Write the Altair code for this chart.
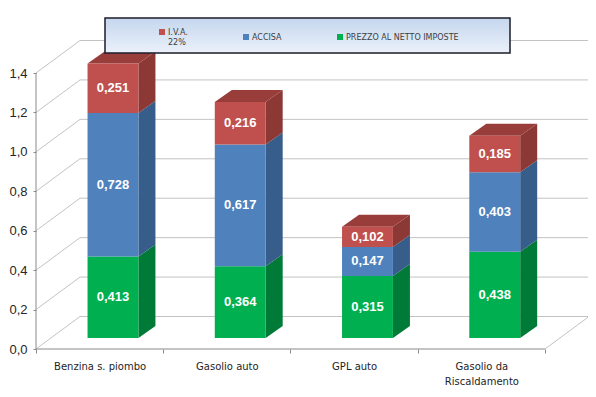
import json
import altair as alt
import pandas as pd

# ---------------- data ----------------
categories = ["Benzina s. piombo", "Gasolio auto", "GPL auto", "Gasolio da Riscaldamento"]
category_lines = [["Benzina s. piombo"], ["Gasolio auto"], ["GPL auto"], ["Gasolio da", "Riscaldamento"]]
prezzo = [0.413, 0.364, 0.315, 0.438]
accisa = [0.728, 0.617, 0.147, 0.403]
iva = [0.251, 0.216, 0.102, 0.185]
series = ["I.V.A. 22%", "ACCISA", "PREZZO AL NETTO IMPOSTE"]
series_lines = {"I.V.A. 22%": ["I.V.A.", "22%"]}
y_ticks = [0.0, 0.2, 0.4, 0.6, 0.8, 1.0, 1.2, 1.4]

# ---------------- style ----------------
front_colors = ["#c0504d", "#4f81bd", "#00b050"]
side_colors = ["#8c3835", "#375d8b", "#007a37"]
top_colors = ["#983d3a", "#3f6a9c", "#008a3e"]
GRID = "#c3c3c3"
AXIS = "#8a8a8a"

PX_X = 127.25      # pixels per category
PX_Y = 197.14      # pixels per value unit
W, H = 551, 319
n = len(categories)
XMAX = W / PX_X
YMAX = H / PX_Y
WALL_DX = 44 / PX_X
WALL_DY = 32.5 / PX_Y
BAR_OFF = 0.405
BAR_W = 0.40
BAR_DX = 17 / PX_X
BAR_DY = 12 / PX_Y
BAR_BASE = 11 / PX_Y

stack = [(series[2], prezzo), (series[1], accisa), (series[0], iva)]

front_rows, side_rows, top_rows = [], [], []
for i, cat in enumerate(categories):
    xl = i + BAR_OFF
    xr = xl + BAR_W
    cum = BAR_BASE
    for s, vals in stack:
        v = vals[i]
        lo, hi = cum, cum + v
        k = series.index(s)
        front_rows.append(dict(cat=cat, series=s, x=xl, x2=xr, y=lo, y2=hi,
                               xm=(xl + xr) / 2, ym=(lo + hi) / 2,
                               label=f"{v:.3f}".replace(".", ",")))
        key = f"{i}-{k}"
        side_rows.append(dict(key=key, x=xr, ylo=lo, yhi=hi, shade=side_colors[k]))
        side_rows.append(dict(key=key, x=xr + BAR_DX, ylo=lo + BAR_DY, yhi=hi + BAR_DY, shade=side_colors[k]))
        cum = hi
    k = series.index(stack[-1][0])
    key = f"t{i}"
    yt = cum
    for (xx, a, b) in [(xl, yt, yt), (xl + BAR_DX, yt, yt + BAR_DY),
                       (xr, yt, yt + BAR_DY), (xr + BAR_DX, yt + BAR_DY, yt + BAR_DY)]:
        top_rows.append(dict(key=key, x=xx, ylo=a, yhi=b, shade=top_colors[k]))

front_df = pd.DataFrame(front_rows)
side_df = pd.DataFrame(side_rows)
top_df = pd.DataFrame(top_rows)

# walls / floor lines
rule_rows = []
for v in y_ticks:
    rule_rows.append(dict(x=WALL_DX, x2=n + WALL_DX, y=v + WALL_DY, y2=v + WALL_DY, c=GRID))
    rule_rows.append(dict(x=0, x2=WALL_DX, y=v, y2=v + WALL_DY, c=GRID))
rule_rows.append(dict(x=n, x2=n + WALL_DX, y=0, y2=WALL_DY, c=GRID))
rule_rows.append(dict(x=0, x2=0, y=0, y2=y_ticks[-1], c=AXIS))
rule_rows.append(dict(x=0, x2=n, y=0, y2=0, c=AXIS))
rule_df = pd.DataFrame(rule_rows)

# ---------------- scales / axes ----------------
xscale = alt.Scale(domain=[0, XMAX], nice=False, zero=False)
yscale = alt.Scale(domain=[0, YMAX], nice=False, zero=False)

parts = []
for i, lines in enumerate(category_lines):
    txt = json.dumps(lines) if len(lines) > 1 else json.dumps(lines[0])
    parts.append(f"datum.value == {i + 0.5} ? {txt} : ")
x_label_expr = "".join(parts) + "''"

x_axis = alt.Axis(
    values=[k * 0.5 for k in range(2 * n + 1)], title=None, domain=False, grid=False,
    tickColor=AXIS, tickSize=4,
    tickOpacity={"condition": {"test": "datum.value % 1 == 0", "value": 1}, "value": 0},
    labelExpr=x_label_expr, labelFont="DejaVu Sans", labelFontSize=10, labelColor="#1e1e1e",
    labelPadding=8, labelLineHeight=15, labelOverlap=False, labelFlush=False,
)
y_axis = alt.Axis(
    values=y_ticks, title=None, domain=False, grid=False, tickColor=AXIS, tickSize=3,
    labelExpr="replace(format(datum.value, '.1f'), '.', ',')",
    labelFont="Liberation Sans", labelFontSize=13, labelColor="#262626",
    labelPadding=6, labelFlush=False, labelOverlap=False,
)

def X(field):
    return alt.X(field, scale=xscale, axis=x_axis)

def Y(field):
    return alt.Y(field, scale=yscale, axis=y_axis)

leg_parts = []
for s, lines in series_lines.items():
    leg_parts.append(f"datum.label == {json.dumps(s)} ? {json.dumps(lines)} : ")
leg_expr = "".join(leg_parts) + "datum.label"

legend = alt.Legend(
    orient="none", legendX=122, legendY=1, direction="horizontal", title=None,
    symbolType="M-1,-2H1V0H-1Z", symbolSize=36, symbolStrokeWidth=0,
    labelFont="DejaVu Sans", labelFontSize=8, labelColor="#404040", labelOffset=2,
    labelBaseline="alphabetic", labelExpr=leg_expr, columnPadding=54, padding=0,
)

# ---------------- layers ----------------
rules = alt.Chart(rule_df).mark_rule(strokeWidth=1).encode(
    x=X("x:Q"), x2="x2:Q", y=Y("y:Q"), y2="y2:Q",
    color=alt.Color("c:N", scale=None),
)

side = alt.Chart(side_df).mark_area(interpolate="linear").encode(
    x=X("x:Q"), y=Y("ylo:Q"), y2="yhi:Q",
    detail="key:N", color=alt.Color("shade:N", scale=None),
)

top = alt.Chart(top_df).mark_area(interpolate="linear").encode(
    x=X("x:Q"), y=Y("ylo:Q"), y2="yhi:Q",
    detail="key:N", color=alt.Color("shade:N", scale=None),
)

front = alt.Chart(front_df).mark_rect().encode(
    x=X("x:Q"), x2="x2:Q", y=Y("y:Q"), y2="y2:Q",
    color=alt.Color("series:N", scale=alt.Scale(domain=series, range=front_colors), legend=legend),
)

labels = alt.Chart(front_df).mark_text(
    font="Liberation Sans", fontSize=13, fontWeight="bold", color="white", baseline="middle"
).encode(
    x=X("xm:Q"), y=Y("ym:Q"), text="label:N",
)

box = alt.Chart(pd.DataFrame({"a": [0]})).mark_rect(
    fill=alt.LinearGradient(
        gradient="linear",
        stops=[alt.GradientStop(color="#c5d6ee", offset=0), alt.GradientStop(color="#ebf1fa", offset=1)],
        x1=0, x2=0, y1=0, y2=1,
    ),
    stroke="#1c1c2a", strokeWidth=1.5,
).encode(x=alt.value(69), x2=alt.value(474), y=alt.value(-12), y2=alt.value(23))

chart = alt.layer(rules, side, top, front, labels, box).properties(
    width=W, height=H,
    autosize=alt.AutoSizeParams(type="none"),
    padding={"left": 28, "top": 22, "right": 1, "bottom": 40},
    background="white",
).configure_view(stroke=None)

chart.save("out.html", embed_options={"renderer": "svg", "actions": False})
